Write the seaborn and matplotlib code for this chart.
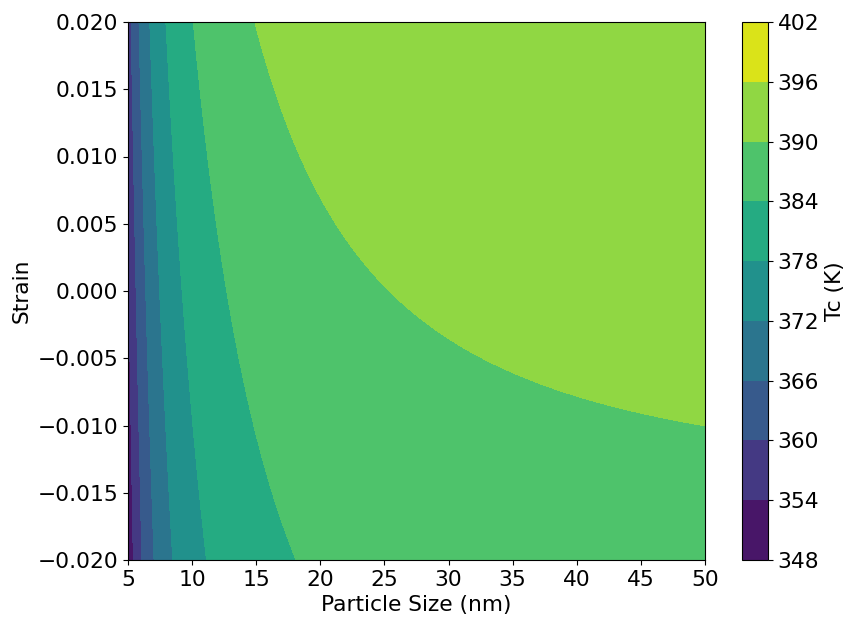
import numpy as np
import matplotlib
matplotlib.use("Agg")
import matplotlib.pyplot as plt
import seaborn as sns

sns.set_style("ticks")
plt.rcParams['font.family'] = ['DejaVu Sans']
plt.rcParams['text.color'] = 'black'
plt.rcParams['axes.labelcolor'] = 'black'
plt.rcParams['xtick.color'] = 'black'
plt.rcParams['ytick.color'] = 'black'
plt.rcParams['axes.edgecolor'] = 'black'

# Axis ranges
size_range = [5, 50]          # particle size, nm
strain_range = [-0.020, 0.020]

# Tc model parameters estimated from the contour boundaries in the picture
tc_bulk = 392.96               # K at zero strain, infinite size
strain_lin = 196.8             # K per unit strain
strain_quad = 136.7            # K per unit strain^2
size_coef = 523.0              # K * nm^p
size_exp = 1.6

levels = [348, 354, 360, 366, 372, 378, 384, 390, 396, 402]
x_ticks = [5, 10, 15, 20, 25, 30, 35, 40, 45, 50]
y_ticks = [-0.020, -0.015, -0.010, -0.005, 0.000, 0.005, 0.010, 0.015, 0.020]

d = np.linspace(size_range[0], size_range[1], 400)
e = np.linspace(strain_range[0], strain_range[1], 400)
D, E = np.meshgrid(d, e)
TC = tc_bulk + strain_lin * E + strain_quad * E**2 - size_coef / D**size_exp

FS = 15.7
W, H = 848, 621
fig = plt.figure(figsize=(W / 100, H / 100), dpi=100)
ax = fig.add_axes([128 / W, 1 - 560 / H, (705 - 128) / W, (560 - 22) / H])
cax = fig.add_axes([742 / W, 1 - 560 / H, 26 / W, (560 - 22) / H])

cmap = sns.color_palette("viridis", as_cmap=True)
cs = ax.contourf(D, E, TC, levels=levels, cmap=cmap)
ax.set_xlim(size_range)
ax.set_ylim(strain_range)
ax.set_xticks(x_ticks)
ax.set_yticks(y_ticks)
ax.set_yticklabels([f"{v:.3f}".replace("-", "\u2212") for v in y_ticks])
ax.tick_params(labelsize=FS)
ax.set_xlabel("Particle Size (nm)", fontsize=FS)
ax.set_ylabel("Strain", fontsize=FS)

cb = fig.colorbar(cs, cax=cax)
cb.set_ticks(levels)
cb.ax.tick_params(labelsize=FS)
cb.set_label("Tc (K)", fontsize=FS)

fig.savefig("out.png", dpi=100)
